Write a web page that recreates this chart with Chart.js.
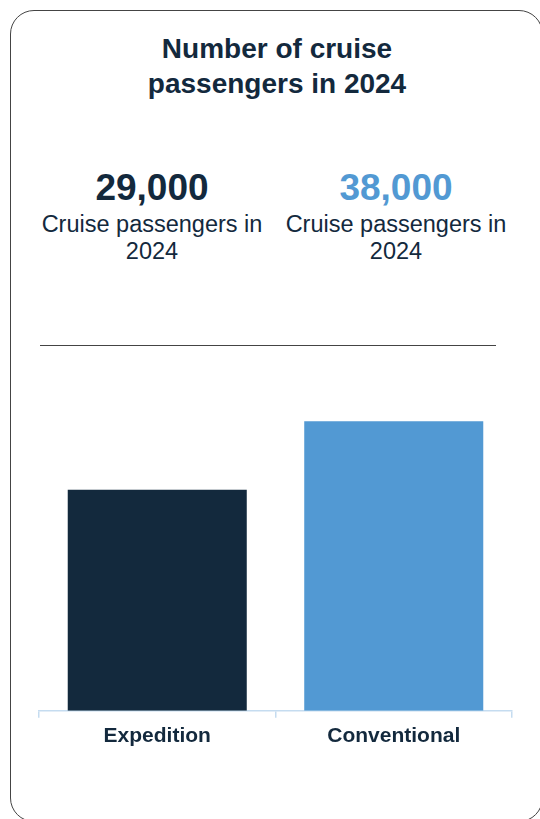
<!DOCTYPE html>
<html>
<head>
<meta charset="utf-8">
<script src="https://cdn.jsdelivr.net/npm/chart.js@4"></script>
<style>
  html, body { margin: 0; padding: 0; background: #fff; }
  body { width: 540px; height: 819px; position: relative; overflow: hidden; font-family: "Liberation Sans", Arial, sans-serif; color: #13293d; }
  .card { position: absolute; left: 10px; top: 10px; width: 533px; height: 812px; border: 1.5px solid #444; border-radius: 24px; box-sizing: border-box; }
  .title { position: absolute; left: 0; width: 554px; top: 31px; text-align: center; font-weight: bold; font-size: 28px; line-height: 35px; }
  .stat { position: absolute; top: 166px; width: 240px; text-align: center; }
  .stat .num { font-weight: bold; font-size: 37px; line-height: 44px; }
  .stat .lbl { font-size: 23.5px; line-height: 27px; margin-top: 1px; }
  .rule { position: absolute; left: 40px; width: 456px; top: 345px; height: 0; border-top: 1.5px solid #444; }
  #wrap { position: absolute; left: 0; top: 370px; width: 540px; height: 400px; }
</style>
</head>
<body>
<div class="card"></div>
<div class="title">Number of cruise<br>passengers in 2024</div>
<div class="stat" id="s0" style="left:32px"></div>
<div class="stat" id="s1" style="left:276px"></div>
<div class="rule"></div>
<div id="wrap"><canvas id="chart"></canvas></div>
<script>
const categories = ['Expedition', 'Conventional'];
const passengers = [29000, 38000];
const barColors = ['#13293d', '#5299d3'];

// summary numbers above the chart come from the same data
categories.forEach(function (c, i) {
    const el = document.getElementById('s' + i);
    el.innerHTML = '<div class="num" style="color:' + barColors[i] + '">' +
        passengers[i].toLocaleString('en-US') + '</div>' +
        '<div class="lbl">Cruise passengers in<br>2024</div>';
});

new Chart(document.getElementById('chart'), {
    type: 'bar',
    data: {
        labels: categories,
        datasets: [{
            data: passengers,
            backgroundColor: barColors,
            borderWidth: 0,
            categoryPercentage: 1,
            barPercentage: 0.757
        }]
    },
    options: {
        responsive: true,
        maintainAspectRatio: false,
        animation: false,
        layout: { padding: { left: 39, right: 28, top: 36, bottom: 15 } },
        plugins: { legend: { display: false }, tooltip: { enabled: false } },
        scales: {
            x: {
                grid: { drawOnChartArea: false, color: '#c5dcf0', tickLength: 7, lineWidth: 1.5 },
                border: { color: '#c5dcf0', width: 1.5 },
                ticks: { color: '#13293d', padding: 6, font: { family: 'Liberation Sans', size: 21, weight: 'bold' } }
            },
            y: { display: false, min: 0, max: 40000 }
        }
    }
});
</script>
</body>
</html>
